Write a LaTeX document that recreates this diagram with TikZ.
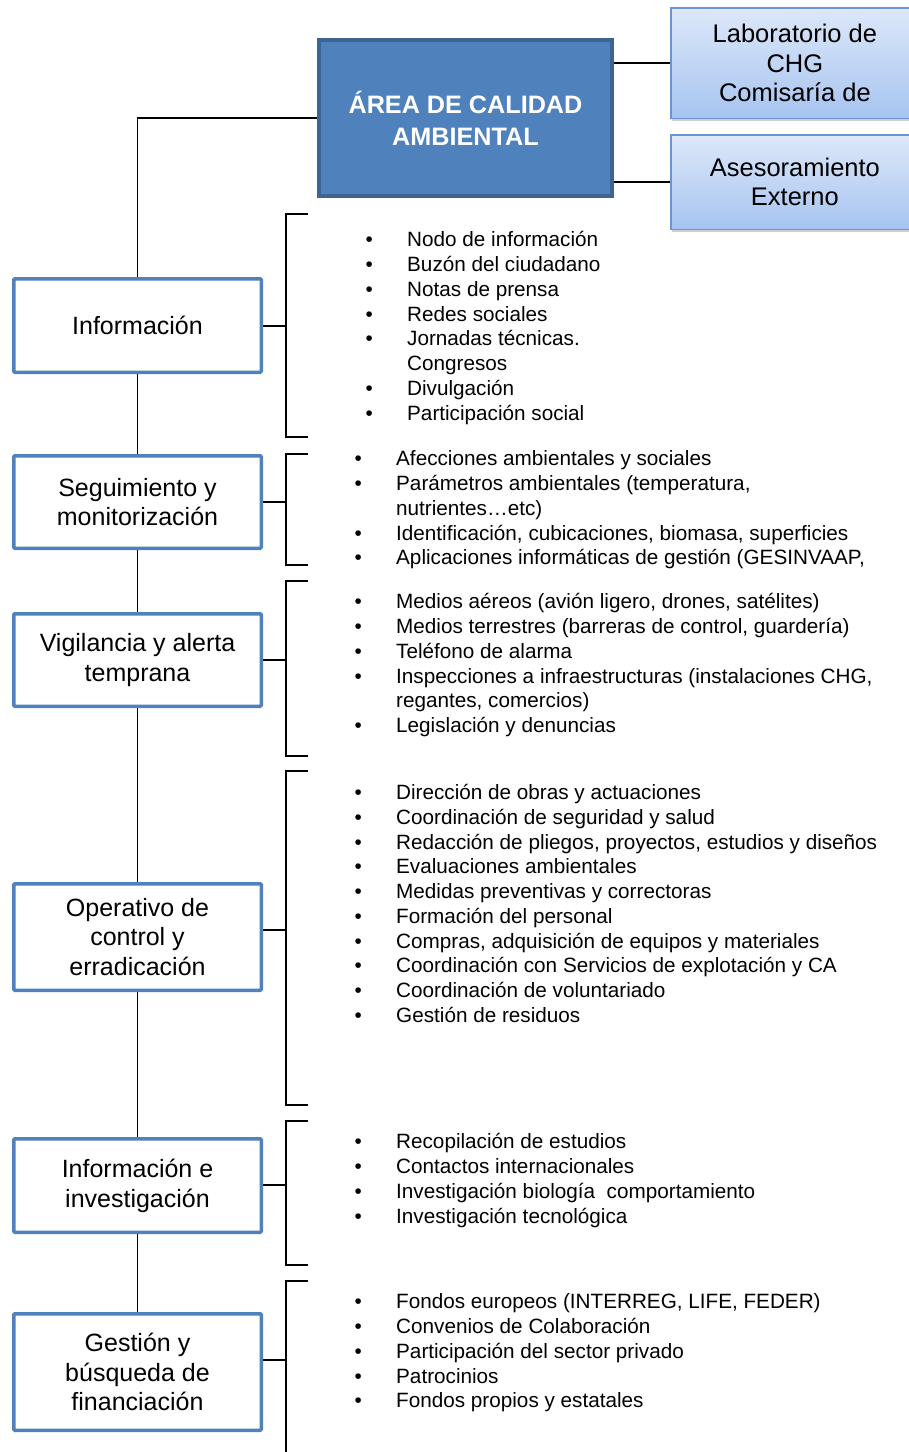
\documentclass[tikz,border=0pt]{standalone}
\usepackage{fontspec}
\setmainfont{Liberation Sans}
\usetikzlibrary{shadows}
\definecolor{accent}{RGB}{79,129,189}
\definecolor{accentdark}{RGB}{62,100,148}
\definecolor{gradtop}{RGB}{221,232,249}
\definecolor{gradbot}{RGB}{166,196,240}
\definecolor{gradline}{RGB}{106,149,207}
\begin{document}
\begin{tikzpicture}[x=1pt,y=-1pt,
  lbox/.style={draw=accent, line width=3.5pt, fill=white, rounded corners=1pt,
    align=center, inner sep=0pt, minimum width=247.5pt,
    font=\fontsize{25}{29.8}\selectfont},
  mainbox/.style={draw=accentdark, line width=4pt, fill=accent, text=white,
    align=center, inner sep=0pt, minimum width=293pt, minimum height=156pt,
    font=\bfseries\fontsize{25.2}{32}\selectfont,
    drop shadow={shadow xshift=1.5pt, shadow yshift=-2pt, opacity=0.3, fill=black!60}},
  rbox/.style={draw=gradline, line width=1.5pt, top color=gradtop, bottom color=gradbot,
    align=center, inner sep=0pt, minimum width=248pt,
    font=\fontsize{25.5}{29.7}\selectfont,
    drop shadow={shadow xshift=1pt, shadow yshift=-2.5pt, opacity=0.35, fill=black!55}},
  conn/.style={draw=black, line width=1.5pt},
  brk/.style={draw=black, line width=1.5pt},
  lst/.style={anchor=north west, inner sep=0pt, align=left,
    font=\fontsize{20.7}{24.76}\selectfont}]

\clip (0,0) rectangle (909,1452);
\fill[white] (0,0) rectangle (909,1452);

% central and right boxes
\node[mainbox] (central) at (465.5,118) {ÁREA DE CALIDAD\\AMBIENTAL};
\node[rbox, minimum height=110.5pt] (lab) at (794.9,63) {Laboratorio de\\CHG\\Comisaría de};
\node[rbox, minimum height=94.5pt] (ases) at (794.9,182) {Asesoramiento\\Externo};

\draw[conn] (central.east |- lab.west) -- (lab.west);
\draw[conn] (central.east |- ases.west) -- (ases.west);

% left boxes
\node[lbox, minimum height=93.5pt] (info) at (137.5,325.5) {Información};
\node[lbox, minimum height=92.5pt] (seg) at (137.5,502) {Seguimiento y\\monitorización};
\node[lbox, minimum height=92.5pt] (vig) at (137.5,660) {Vigilancia y alerta\\temprana};
\node[lbox, minimum height=106.5pt] (op) at (137.5,937) {Operativo de\\control y\\erradicación};
\node[lbox, minimum height=93.5pt] (inv) at (137.5,1185.5) {Información e\\investigación};
\node[lbox, minimum height=116.5pt] (fin) at (137.5,1372) {Gestión y\\búsqueda de\\financiación};

\draw[conn] (central.west) -| (info.north);
\draw[conn] (info.south) -- (seg.north);
\draw[conn] (seg.south) -- (vig.north);
\draw[conn] (vig.south) -- (op.north);
\draw[conn] (op.south) -- (inv.north);
\draw[conn] (inv.south) -- (fin.north);

% brackets
\coordinate (bInfo) at (286,326);
\coordinate (bSeg) at (286,502);
\coordinate (bVig) at (286,660);
\coordinate (bOp) at (286,930);
\coordinate (bInv) at (286,1185);
\coordinate (bFin) at (286,1360);

\draw[brk] (308,214) -- (286,214) -- (286,437) -- (308,437);
\draw[brk] (308,454) -- (286,454) -- (286,565) -- (308,565);
\draw[brk] (308,581) -- (286,581) -- (286,756) -- (308,756);
\draw[brk] (308,771) -- (286,771) -- (286,1105) -- (308,1105);
\draw[brk] (308,1121) -- (286,1121) -- (286,1265) -- (308,1265);
\draw[brk] (308,1281) -- (286,1281) -- (286,1460);

\draw[conn] (info.east |- bInfo) -- (bInfo);
\draw[conn] (seg.east |- bSeg) -- (bSeg);
\draw[conn] (vig.east |- bVig) -- (bVig);
\draw[conn] (op.east |- bOp) -- (bOp);
\draw[conn] (inv.east |- bInv) -- (bInv);
\draw[conn] (fin.east |- bFin) -- (bFin);

% lists
\node[lst] (lInfo) at (365.4,229.4) {\begin{tabular}{@{}p{41.6pt}@{}l@{}}
• & Nodo de información\\
• & Buzón del ciudadano\\
• & Notas de prensa\\
• & Redes sociales\\
• & Jornadas técnicas.\\
  & Congresos\\
• & Divulgación\\
• & Participación social
\end{tabular}};

\node[lst] (lSeg) at (354.4,448.4) {\begin{tabular}{@{}p{41.6pt}@{}l@{}}
• & Afecciones ambientales y sociales\\
• & Parámetros ambientales (temperatura,\\
  & nutrientes…etc)\\
• & Identificación, cubicaciones, biomasa, superficies\\
• & Aplicaciones informáticas de gestión (GESINVAAP,
\end{tabular}};

\node[lst] (lVig) at (354.4,591.4) {\begin{tabular}{@{}p{41.6pt}@{}l@{}}
• & Medios aéreos (avión ligero, drones, satélites)\\
• & Medios terrestres (barreras de control, guardería)\\
• & Teléfono de alarma\\
• & Inspecciones a infraestructuras (instalaciones CHG,\\
  & regantes, comercios)\\
• & Legislación y denuncias
\end{tabular}};

\node[lst] (lOp) at (354.4,782.0) {\begin{tabular}{@{}p{41.6pt}@{}l@{}}
• & Dirección de obras y actuaciones\\
• & Coordinación de seguridad y salud\\
• & Redacción de pliegos, proyectos, estudios y diseños\\
• & Evaluaciones ambientales\\
• & Medidas preventivas y correctoras\\
• & Formación del personal\\
• & Compras, adquisición de equipos y materiales\\
• & Coordinación con Servicios de explotación y CA\\
• & Coordinación de voluntariado\\
• & Gestión de residuos
\end{tabular}};

\node[lst] (lInv) at (354.4,1131.4) {\begin{tabular}{@{}p{41.6pt}@{}l@{}}
• & Recopilación de estudios\\
• & Contactos internacionales\\
• & Investigación biología~ comportamiento\\
• & Investigación tecnológica
\end{tabular}};

\node[lst] (lFin) at (354.4,1291.4) {\begin{tabular}{@{}p{41.6pt}@{}l@{}}
• & Fondos europeos (INTERREG, LIFE, FEDER)\\
• & Convenios de Colaboración\\
• & Participación del sector privado\\
• & Patrocinios\\
• & Fondos propios y estatales
\end{tabular}};

\end{tikzpicture}
\end{document}
